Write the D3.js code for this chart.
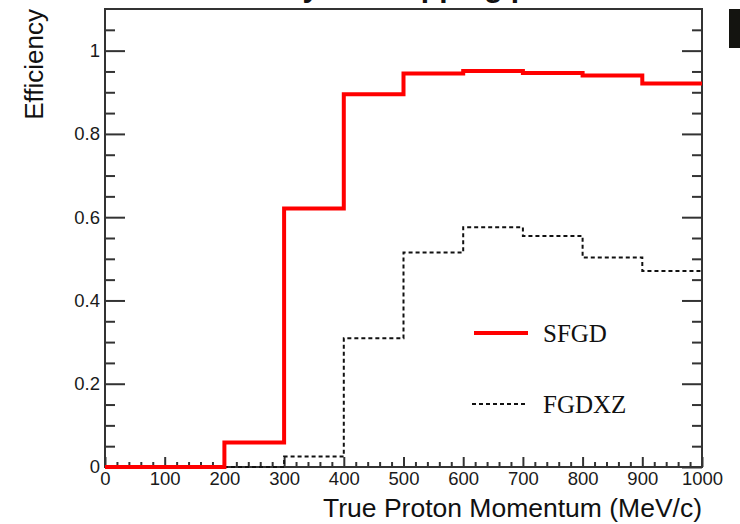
<!DOCTYPE html>
<html>
<head>
<meta charset="utf-8">
<script src="https://cdn.jsdelivr.net/npm/d3@7"></script>
<style>
  html, body { margin: 0; padding: 0; background: #fff; }
  svg { display: block; }
</style>
</head>
<body>
<svg id="chart" width="740" height="524"></svg>
<script>
// Bin edges of the momentum histogram (MeV/c)
const binEdges = [0, 100, 200, 300, 400, 500, 600, 700, 800, 900, 1000];
// Efficiency per bin
const sfgd  = [0, 0, 0.059, 0.621, 0.895, 0.945, 0.951, 0.946, 0.940, 0.921];
const fgdxz = [0, 0, 0, 0.025, 0.309, 0.515, 0.576, 0.555, 0.503, 0.471];
// Axis ticks
const xMajor = [0, 100, 200, 300, 400, 500, 600, 700, 800, 900, 1000];
const yMajor = [0, 0.2, 0.4, 0.6, 0.8, 1];
const yMinor = [0.05, 0.1, 0.15, 0.25, 0.3, 0.35, 0.45, 0.5, 0.55, 0.65, 0.7, 0.75, 0.85, 0.9, 0.95, 1.05];
const xMinor = d3.range(20, 1000, 20).filter(v => v % 100 !== 0);
const seriesNames = ["SFGD", "FGDXZ"];

const svg = d3.select("#chart");
const plotLeft = 105, plotRight = 702, plotTop = 9, plotBottom = 467;

const x = d3.scaleLinear().domain([0, 1000]).range([plotLeft, plotRight]);
const y = d3.scaleLinear().domain([0, 1.1]).range([plotBottom, plotTop]);

const sans = "'Liberation Sans', Arial, Helvetica, sans-serif";
const serif = "'Liberation Serif', 'Times New Roman', serif";
const axisColor = "#333";

// Title (runs off the top edge)
svg.append("text")
  .attr("x", 400).attr("y", -3)
  .attr("text-anchor", "middle")
  .attr("font-family", sans).attr("font-weight", "bold")
  .attr("font-size", 30).attr("fill", "#111")
  .text("Efficiency for stopping protons");

// Neighbouring panel edge
svg.append("rect")
  .attr("x", 729).attr("y", 9).attr("width", 11).attr("height", 39)
  .attr("fill", "#141410");

function styleAxis(g, size) {
  g.select(".domain").remove();
  g.selectAll(".tick line").attr("stroke", axisColor).attr("stroke-width", 2);
  g.selectAll(".tick text")
    .attr("font-family", sans).attr("font-size", size).attr("fill", "#1a1a1a");
}

// Left axis
svg.append("g").attr("transform", `translate(${plotLeft},0)`)
  .call(d3.axisLeft(y).tickValues(yMinor).tickSize(-10).tickFormat(""))
  .call(g => styleAxis(g, 18));
svg.append("g").attr("transform", `translate(${plotLeft},0)`)
  .call(d3.axisLeft(y).tickValues(yMajor).tickSize(-20).tickPadding(5).tickFormat(d3.format("~g")))
  .call(g => styleAxis(g, 18.5));

// Right axis (mirrored ticks)
svg.append("g").attr("transform", `translate(${plotRight},0)`)
  .call(d3.axisRight(y).tickValues(yMinor).tickSize(-10).tickFormat(""))
  .call(g => styleAxis(g, 18));
svg.append("g").attr("transform", `translate(${plotRight},0)`)
  .call(d3.axisRight(y).tickValues(yMajor).tickSize(-20).tickFormat(""))
  .call(g => styleAxis(g, 18));

// Bottom axis
svg.append("g").attr("transform", `translate(0,${plotBottom})`)
  .call(d3.axisBottom(x).tickValues(xMinor).tickSize(-5).tickFormat(""))
  .call(g => styleAxis(g, 18));
svg.append("g").attr("transform", `translate(0,${plotBottom})`)
  .call(d3.axisBottom(x).tickValues(xMajor).tickSize(-10).tickPadding(5).tickFormat(d3.format("d")))
  .call(g => styleAxis(g, 18.5));

// Frame
svg.append("rect")
  .attr("x", plotLeft).attr("y", plotTop)
  .attr("width", plotRight - plotLeft).attr("height", plotBottom - plotTop)
  .attr("fill", "none").attr("stroke", axisColor).attr("stroke-width", 2);

// Axis titles
svg.append("text")
  .attr("x", plotRight).attr("y", 517)
  .attr("text-anchor", "end")
  .attr("font-family", sans).attr("font-size", 26.5).attr("fill", "#111")
  .text("True Proton Momentum (MeV/c)");
svg.append("text")
  .attr("transform", `translate(43,${plotTop}) rotate(-90)`)
  .attr("text-anchor", "end")
  .attr("font-family", sans).attr("font-size", 26).attr("fill", "#111")
  .text("Efficiency");

// Histogram steps
const step = d3.line()
  .x(d => x(d[0])).y(d => y(d[1]))
  .curve(d3.curveStepAfter);
function stepPoints(vals) {
  const pts = vals.map((v, i) => [binEdges[i], v]);
  pts.push([binEdges[binEdges.length - 1], vals[vals.length - 1]]);
  return pts;
}

svg.append("path")
  .attr("d", step(stepPoints(fgdxz)))
  .attr("fill", "none").attr("stroke", "#111")
  .attr("stroke-width", 2).attr("stroke-dasharray", "4,3");

svg.append("path")
  .attr("d", step(stepPoints(sfgd)))
  .attr("fill", "none").attr("stroke", "#ff0000")
  .attr("stroke-width", 4).attr("stroke-linejoin", "miter");

// Legend
const legend = svg.append("g");
legend.append("line")
  .attr("x1", 474).attr("x2", 528).attr("y1", 333).attr("y2", 333)
  .attr("stroke", "#ff0000").attr("stroke-width", 4);
legend.append("line")
  .attr("x1", 472).attr("x2", 528).attr("y1", 404).attr("y2", 404)
  .attr("stroke", "#111").attr("stroke-width", 2).attr("stroke-dasharray", "4,3");
legend.append("text")
  .attr("x", 543).attr("y", 342)
  .attr("font-family", serif).attr("font-size", 25).attr("fill", "#111")
  .text(seriesNames[0]);
legend.append("text")
  .attr("x", 543).attr("y", 413)
  .attr("font-family", serif).attr("font-size", 25).attr("fill", "#111")
  .text(seriesNames[1]);
</script>
</body>
</html>
